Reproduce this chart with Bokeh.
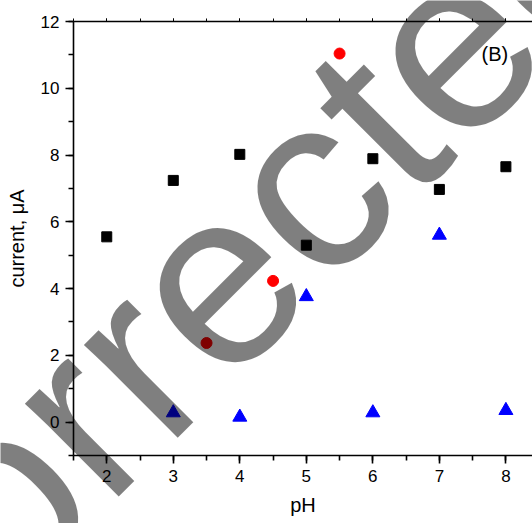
import math
from bokeh.plotting import figure
from bokeh.layouts import column
from bokeh.models import Label, LinearAxis, SingleIntervalTicker
from bokeh.embed import file_html
from bokeh.resources import INLINE

# data
ph_sq = [2, 3, 4, 5, 6, 7, 8]
cur_sq = [5.55, 7.24, 8.02, 5.30, 7.89, 6.97, 7.65]
ph_ci = [3.5, 4.5, 5.5]
cur_ci = [2.37, 4.23, 11.04]
ph_tr = [3, 4, 5, 6, 7, 8]
cur_tr = [0.28, 0.15, 3.76, 0.28, 5.60, 0.35]

FONT = "Liberation Sans"
W, H = 532, 523

p = figure(width=W, height=H, x_range=(1.5, 8.4), y_range=(-1, 12),
           output_backend="svg", toolbar_location=None,
           min_border_left=73, min_border_right=0, min_border_top=21,
           min_border_bottom=68)
p.grid.visible = False
p.outline_line_color = None
p.background_fill_color = "white"

p.xaxis.ticker = SingleIntervalTicker(interval=1, num_minor_ticks=2)
p.yaxis.ticker = SingleIntervalTicker(interval=2, num_minor_ticks=2)
for ax in (p.xaxis[0], p.yaxis[0]):
    ax.axis_line_width = 1.6
    ax.major_tick_line_width = 1.6
    ax.minor_tick_line_width = 1.6
    ax.major_tick_out = 8
    ax.major_tick_in = 0
    ax.minor_tick_out = 5
    ax.minor_tick_in = 0
    ax.major_label_text_font = FONT
    ax.major_label_text_font_size = "17px"
    ax.major_label_text_color = "black"
    ax.axis_label_text_font = FONT
    ax.axis_label_text_font_size = "20px"
    ax.axis_label_text_font_style = "normal"
    ax.axis_label_text_color = "black"
p.xaxis.axis_label = "pH"
p.yaxis.axis_label = "current, \u03bcA"
p.xaxis.major_label_standoff = 6
p.yaxis.major_label_standoff = 6
p.xaxis.axis_label_standoff = 9
p.yaxis.axis_label_standoff = 10

top = LinearAxis(ticker=SingleIntervalTicker(interval=1, num_minor_ticks=2),
                 axis_line_width=1.6, major_tick_out=3, major_tick_in=0,
                 minor_tick_out=3, minor_tick_in=0,
                 major_label_text_font_size="1px", major_label_text_alpha=0,
                 major_label_standoff=0)
p.add_layout(top, "above")

p.scatter(ph_sq, cur_sq, marker="square", size=10, color="black")
p.scatter(ph_ci, cur_ci, marker="circle", size=11, color="red")
p.scatter(ph_tr, cur_tr, marker="triangle", size=14, color="blue")

p.add_layout(Label(x=7.635, y=11.04, text="(B)", text_font=FONT,
                   text_font_size="20px", text_baseline="middle",
                   text_color="black"))

# transparent overlay figure for the watermark (page pixel coordinates)
wm = figure(width=W, height=H, x_range=(0, W), y_range=(H, 0),
            output_backend="svg", toolbar_location=None,
            x_axis_type=None, y_axis_type=None,
            min_border=0, min_border_left=0, min_border_right=0,
            min_border_top=0, min_border_bottom=0)
wm.frame_align = False
wm.grid.visible = False
wm.outline_line_color = None
wm.background_fill_color = None
wm.border_fill_color = None
wm.add_layout(Label(x=207, y=285, text="Corrected", text_font=FONT,
                    text_font_size="250px", text_align="center",
                    text_baseline="alphabetic", angle=math.pi / 4,
                    text_color="black", text_alpha=0.5))
wm.styles = {"position": "absolute", "top": "0px", "left": "0px",
             "pointer-events": "none"}

root = column(p, wm)
open("out.html", "w").write(file_html(root, INLINE))
